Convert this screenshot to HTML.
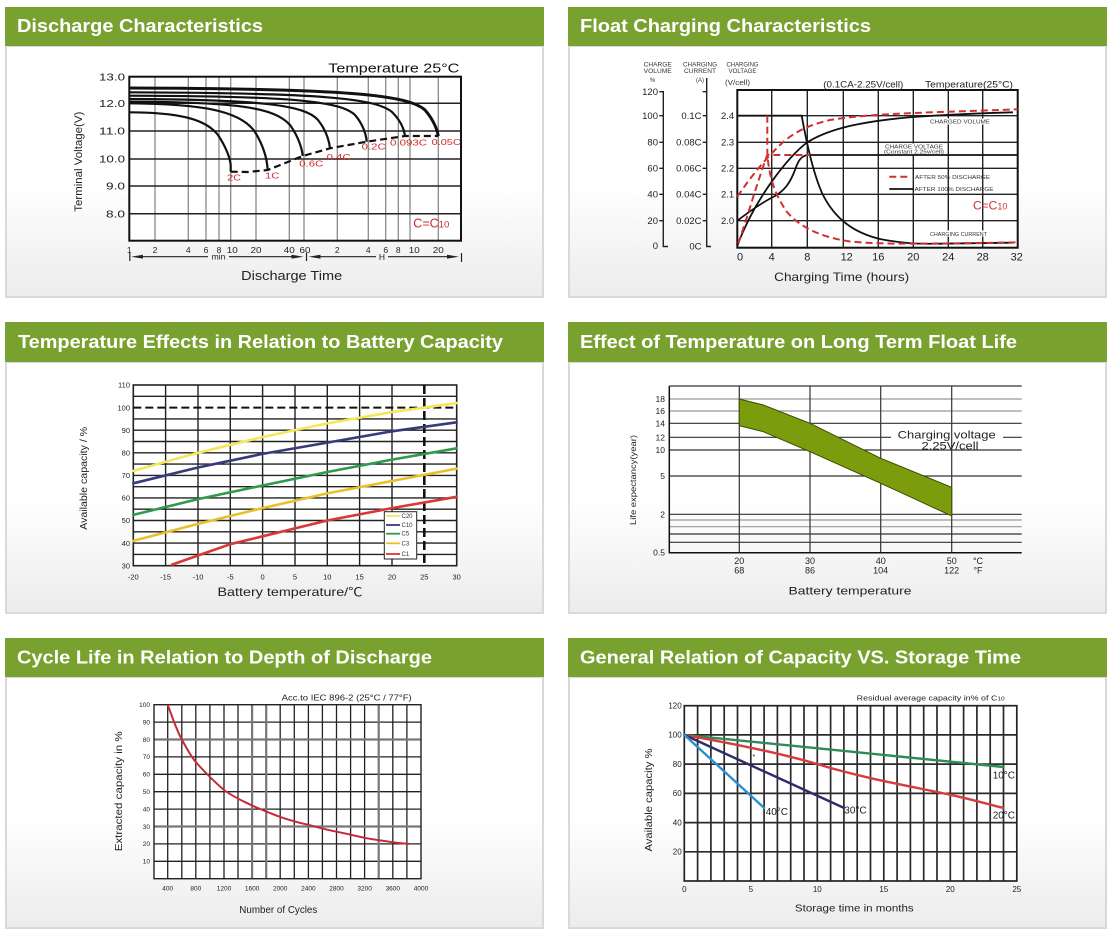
<!DOCTYPE html>
<html>
<head>
<meta charset="utf-8">
<style>
html,body{margin:0;padding:0;background:#fff;}
svg{display:block;}
text{font-family:"Liberation Sans","Noto Sans CJK SC",sans-serif;}
</style>
</head>
<body>
<svg width="1109" height="934" viewBox="0 0 1109 934" xmlns="http://www.w3.org/2000/svg">
<defs>
<linearGradient id="bg" x1="0" y1="0" x2="0" y2="1">
<stop offset="0" stop-color="#ffffff"/>
<stop offset="0.55" stop-color="#ffffff"/>
<stop offset="1" stop-color="#ececec"/>
</linearGradient>
</defs>
<rect width="1109" height="934" fill="#fff"/>

<!-- ===== Panels ===== -->
<g stroke="#d9d9d9" stroke-width="2" fill="url(#bg)">
<rect x="6" y="46" width="537" height="251"/>
<rect x="569" y="46" width="537" height="251"/>
<rect x="6" y="362" width="537" height="251"/>
<rect x="569" y="362" width="537" height="251"/>
<rect x="6" y="677" width="537" height="251"/>
<rect x="569" y="677" width="537" height="251"/>
</g>
<g fill="#79a130">
<rect x="5" y="7" width="539" height="39"/>
<rect x="568" y="7" width="539" height="39"/>
<rect x="5" y="322" width="539" height="40"/>
<rect x="568" y="322" width="539" height="40"/>
<rect x="5" y="638" width="539" height="39"/>
<rect x="568" y="638" width="539" height="39"/>
</g>
<g fill="#fff" font-weight="bold" font-size="18">
<text x="17" y="32" textLength="246" lengthAdjust="spacingAndGlyphs">Discharge Characteristics</text>
<text x="580" y="32" textLength="291" lengthAdjust="spacingAndGlyphs">Float Charging Characteristics</text>
<text x="18" y="348" textLength="485" lengthAdjust="spacingAndGlyphs">Temperature Effects in Relation to Battery Capacity</text>
<text x="580" y="348" textLength="437" lengthAdjust="spacingAndGlyphs">Effect of Temperature on Long Term Float Life</text>
<text x="17" y="663.5" textLength="415" lengthAdjust="spacingAndGlyphs">Cycle Life in Relation to Depth of Discharge</text>
<text x="580" y="663.5" textLength="441" lengthAdjust="spacingAndGlyphs">General Relation of Capacity VS. Storage Time</text>
</g>

<!-- ===== Chart 1: Discharge ===== -->
<g>
<rect x="129.3" y="76.7" width="331.7" height="164" fill="#fff"/>
<path d="M155,76.7V240.7M188.3,76.7V240.7M206,76.7V240.7M219,76.7V240.7M230.7,76.7V240.7M256,76.7V240.7M289.3,76.7V240.7M304,76.7V240.7M337.3,76.7V240.7M368.3,76.7V240.7M385.7,76.7V240.7M398.3,76.7V240.7M410,76.7V240.7M438.3,76.7V240.7" stroke="#8a8a8a" stroke-width="1.3" fill="none"/>
<path d="M129.3,103.3H461M129.3,131H461M129.3,159H461M129.3,186H461M129.3,213.7H461" stroke="#222" stroke-width="1.5" fill="none"/>
<rect x="129.3" y="76.7" width="331.7" height="164" fill="none" stroke="#111" stroke-width="2"/>
<g fill="none" stroke="#111" stroke-width="2.2">
<path d="M130,112.3 C175,112.5 205,118 218,135 C226,147 230,158 230.7,165 L230.7,171.7"/>
<path d="M130,103.3 C200,104 240,110 255,132 C263,145 267,158 267.7,170"/>
<path d="M130,101.7 C240,102 275,108 290,125 C298,136 302,148 302.7,156"/>
<path d="M130,99 C260,99.5 305,105 318,120 C326,130 329,140 330,148.3"/>
<path d="M130,95.7 C290,96 340,101 355,115 C362,123 366,133 366.7,141.7"/>
<path d="M130,92.3 C320,93 375,98 392,112 C400,120 404,128 405,136"/>
<path d="M130,88 C350,88.7 408,95 425,110 C432,118 437,128 438.3,136" stroke-width="3"/>
<path d="M230.7,171.7 L248,172 L267.7,170 L302.7,156 L330,148.3 L366.7,141.7 L405,136 L438.3,136" stroke-dasharray="7,4"/>
</g>
<g fill="#d02828" font-size="8">
<text x="227.3" y="180.5" textLength="13.7" lengthAdjust="spacingAndGlyphs">2C</text>
<text x="265" y="178.5" textLength="14.3" lengthAdjust="spacingAndGlyphs">1C</text>
<text x="299.3" y="166.5" textLength="24" lengthAdjust="spacingAndGlyphs">0.6C</text>
<text x="326.7" y="160" textLength="24" lengthAdjust="spacingAndGlyphs">0.4C</text>
<text x="361.7" y="149.5" textLength="24" lengthAdjust="spacingAndGlyphs">0.2C</text>
<text x="390" y="145.5" textLength="37" lengthAdjust="spacingAndGlyphs">0.093C</text>
<text x="431.7" y="145" textLength="29" lengthAdjust="spacingAndGlyphs">0.05C</text>
</g>
<text x="328.3" y="72.5" font-size="12.5" fill="#111" textLength="131" lengthAdjust="spacingAndGlyphs">Temperature 25°C</text>
<g font-size="10.5" fill="#222" text-anchor="end">
<text x="125" y="80.5" textLength="26" lengthAdjust="spacingAndGlyphs">13.0</text>
<text x="125" y="107" textLength="26" lengthAdjust="spacingAndGlyphs">12.0</text>
<text x="125" y="134.7" textLength="26" lengthAdjust="spacingAndGlyphs">11.0</text>
<text x="125" y="162.7" textLength="26" lengthAdjust="spacingAndGlyphs">10.0</text>
<text x="125" y="189.7" textLength="19" lengthAdjust="spacingAndGlyphs">9.0</text>
<text x="125" y="217.4" textLength="19" lengthAdjust="spacingAndGlyphs">8.0</text>
</g>
<text transform="rotate(-90 78 161.7)" x="78" y="165.5" font-size="11" fill="#222" text-anchor="middle" textLength="100" lengthAdjust="spacingAndGlyphs">Terminal Voltage(V)</text>
<g font-size="8.5" fill="#222" text-anchor="middle">
<text x="129.3" y="253">1</text>
<text x="155" y="253">2</text>
<text x="188.3" y="253">4</text>
<text x="206" y="253">6</text>
<text x="219" y="253">8</text>
<text x="232.3" y="253" textLength="11" lengthAdjust="spacingAndGlyphs">10</text>
<text x="256" y="253" textLength="11" lengthAdjust="spacingAndGlyphs">20</text>
<text x="289.3" y="253" textLength="11" lengthAdjust="spacingAndGlyphs">40</text>
<text x="305" y="253" textLength="11" lengthAdjust="spacingAndGlyphs">60</text>
<text x="337.3" y="253">2</text>
<text x="368.3" y="253">4</text>
<text x="385.7" y="253">6</text>
<text x="398.3" y="253">8</text>
<text x="414.3" y="253" textLength="11" lengthAdjust="spacingAndGlyphs">10</text>
<text x="438.3" y="253" textLength="11" lengthAdjust="spacingAndGlyphs">20</text>
</g>
<g stroke="#222" stroke-width="1.2" fill="none">
<path d="M129.8,253V261M306.5,253V261M461.5,253V262"/>
<path d="M140,256.7H208M229,256.7H293M318,256.7H376M388,256.7H449"/>
</g>
<g fill="#222">
<polygon points="131,256.7 143,254.8 143,258.6"/>
<polygon points="303.5,256.7 291.5,254.8 291.5,258.6"/>
<polygon points="308.5,256.7 320.5,254.8 320.5,258.6"/>
<polygon points="459,256.7 447,254.8 447,258.6"/>
</g>
<text x="218.5" y="259.5" font-size="8.5" fill="#222" text-anchor="middle">min</text>
<text x="382" y="260" font-size="8.5" fill="#222" text-anchor="middle">H</text>
<text x="291.7" y="280" font-size="12.5" fill="#222" text-anchor="middle" textLength="101" lengthAdjust="spacingAndGlyphs">Discharge Time</text>
<text x="413.3" y="227.5" font-size="12.5" fill="#d02828">C=C<tspan font-size="9.5">10</tspan></text>
</g>

<!-- ===== Chart 2: Float charging ===== -->
<g>
<rect x="737.3" y="90" width="280.4" height="157.7" fill="#fff"/>
<path d="M771.7,90V247.7M807.3,90V247.7M843.3,90V247.7M878.3,90V247.7M913.3,90V247.7M948.3,90V247.7M982.7,90V247.7" stroke="#222" stroke-width="1.4" fill="none"/>
<path d="M737.3,115.7H1017.7M737.3,142.3H1017.7M737.3,168.3H1017.7M737.3,194.3H1017.7M737.3,220.7H1017.7" stroke="#222" stroke-width="1.4" fill="none"/>
<rect x="737.3" y="90" width="280.4" height="157.7" fill="none" stroke="#111" stroke-width="2"/>
<g fill="#fff">
<rect x="927" y="118.5" width="66" height="6"/>
<rect x="883" y="143.5" width="63" height="11"/>
<rect x="928" y="230.5" width="61" height="6"/>
</g>
<g stroke="#222" stroke-width="1.4" fill="none">
<path d="M663.3,91V246.5H668M659.3,91.7H663.3M659.3,115.7H663.3M659.3,142.3H663.3M659.3,168.3H663.3M659.3,194.3H663.3M659.3,220.7H663.3"/>
<path d="M706.7,78V246.5H711M702.7,91.7H706.7M702.7,115.7H706.7M702.7,142.3H706.7M702.7,168.3H706.7M702.7,194.3H706.7M702.7,220.7H706.7"/>
</g>
<g font-size="9.5" fill="#222" text-anchor="end">
<text x="658" y="95">120</text>
<text x="658" y="119">100</text>
<text x="658" y="145.6">80</text>
<text x="658" y="171.6">60</text>
<text x="658" y="197.6">40</text>
<text x="658" y="224">20</text>
<text x="658" y="249">0</text>
<text x="701.5" y="119">0.1C</text>
<text x="701.5" y="145.6">0.08C</text>
<text x="701.5" y="171.6">0.06C</text>
<text x="701.5" y="197.6">0.04C</text>
<text x="701.5" y="224">0.02C</text>
<text x="701.5" y="249.5">0C</text>
</g>
<g font-size="9.5" fill="#222">
<text x="721" y="119">2.4</text>
<text x="721" y="145.6">2.3</text>
<text x="721" y="171.6">2.2</text>
<text x="721" y="197.6">2.1</text>
<text x="721" y="224">2.0</text>
</g>
<g font-size="6" fill="#333" text-anchor="middle">
<text x="657.7" y="66.5" textLength="28" lengthAdjust="spacingAndGlyphs">CHARGE</text>
<text x="657.7" y="72.8" textLength="28" lengthAdjust="spacingAndGlyphs">VOLUME</text>
<text x="652.5" y="82">%</text>
<text x="700" y="66.5" textLength="34" lengthAdjust="spacingAndGlyphs">CHARGING</text>
<text x="700" y="72.8" textLength="32" lengthAdjust="spacingAndGlyphs">CURRENT</text>
<text x="700" y="82">(A)</text>
<text x="742.5" y="66.5" textLength="32" lengthAdjust="spacingAndGlyphs">CHARGING</text>
<text x="742.5" y="72.8" textLength="28" lengthAdjust="spacingAndGlyphs">VOLTAGE</text>
<text x="737.5" y="85" font-size="7" textLength="25" lengthAdjust="spacingAndGlyphs">(V/cell)</text>
</g>
<text x="823.3" y="87.5" font-size="9" fill="#222" textLength="80" lengthAdjust="spacingAndGlyphs">(0.1CA-2.25V/cell)</text>
<text x="925" y="87.5" font-size="9.5" fill="#222" textLength="88" lengthAdjust="spacingAndGlyphs">Temperature(25°C)</text>
<g fill="none" stroke="#111" stroke-width="1.8">
<path d="M807.3,155 L1017.7,155"/>
<path d="M737.3,220.7 C750,211 765,201 775,196 C785,190 790,183 795,170 C798,161 801,156 807.3,155"/>
<path d="M737.3,115.7 L801.7,115.7 C806,140 812,170 822,193 C835,220 855,233 880,239 C900,243 915,244 940,243.7 L1013,242.7"/>
<path d="M737.3,245.7 C745,225 755,205 771.7,181.7 C785,163 797,150 807.3,142.3 C830,128 865,121 913,117 C950,114.5 985,113 1013,112.3"/>
</g>
<g fill="none" stroke="#d03030" stroke-width="2" stroke-dasharray="7,4">
<path d="M737.3,196.7 C750,178 762,163 775,150 C790,134 805,126 830,120 C860,115 900,113.5 940,112 L1017.7,109.3"/>
<path d="M738.3,243.3 C748,215 758,180 767.3,155 L810,155"/>
<path d="M767.3,115.7 L767.3,150 C768,175 775,195 787,212 C800,227 820,237 850,241.5 C880,244.5 920,244 1017.7,242.3"/>
</g>
<line x1="889.3" y1="176.7" x2="911" y2="176.7" stroke="#d03030" stroke-width="2" stroke-dasharray="7,4"/>
<line x1="889.3" y1="189" x2="913.3" y2="189" stroke="#111" stroke-width="1.8"/>
<g font-size="5.5" fill="#333">
<text x="915" y="179" textLength="75" lengthAdjust="spacingAndGlyphs">AFTER 50% DISCHARGE</text>
<text x="914.5" y="191" textLength="79" lengthAdjust="spacingAndGlyphs">AFTER 100% DISCHARGE</text>
<text x="930" y="123.5" textLength="60" lengthAdjust="spacingAndGlyphs">CHARGED VOLUME</text>
<text x="885" y="148.5" textLength="58" lengthAdjust="spacingAndGlyphs">CHARGE VOLTAGE</text>
<text x="884" y="153.5" textLength="60" lengthAdjust="spacingAndGlyphs">(Constant 2.25v/cell)</text>
<text x="930" y="236" textLength="57" lengthAdjust="spacingAndGlyphs">CHARGING CURRENT</text>
</g>
<text x="973" y="209.5" font-size="12" fill="#d03030">C=C<tspan font-size="9">10</tspan></text>
<g font-size="11" fill="#222" text-anchor="middle">
<text x="740" y="260.5">0</text>
<text x="771.7" y="260.5">4</text>
<text x="807.3" y="260.5">8</text>
<text x="846.7" y="260.5">12</text>
<text x="878.3" y="260.5">16</text>
<text x="913.3" y="260.5">20</text>
<text x="948.3" y="260.5">24</text>
<text x="982.7" y="260.5">28</text>
<text x="1016.7" y="260.5">32</text>
</g>
<text x="841.7" y="281" font-size="12" fill="#222" text-anchor="middle" textLength="135" lengthAdjust="spacingAndGlyphs">Charging Time (hours)</text>
</g>

<!-- ===== Chart 3: Temperature vs capacity ===== -->
<g>
<rect x="133.3" y="385" width="323.4" height="180.7" fill="#fff"/>
<path d="M133.3,554.4H456.7M133.3,543.1H456.7M133.3,531.8H456.7M133.3,520.5H456.7M133.3,509.2H456.7M133.3,497.9H456.7M133.3,486.7H456.7M133.3,475.4H456.7M133.3,464.1H456.7M133.3,452.8H456.7M133.3,441.5H456.7M133.3,430.2H456.7M133.3,418.9H456.7M133.3,396.3H456.7" stroke="#222" stroke-width="1.4" fill="none"/>
<path d="M165.6,385V565.7M198,385V565.7M230.3,385V565.7M262.6,385V565.7M295,385V565.7M327.3,385V565.7M359.6,385V565.7M392,385V565.7" stroke="#222" stroke-width="1.4" fill="none"/>
<rect x="133.3" y="385" width="323.4" height="180.7" fill="none" stroke="#222" stroke-width="1.6"/>
<line x1="133.3" y1="407.6" x2="456.7" y2="407.6" stroke="#111" stroke-width="2" stroke-dasharray="8,4"/>
<line x1="424.3" y1="385" x2="424.3" y2="565.7" stroke="#111" stroke-width="2.6" stroke-dasharray="9,4"/>
<g fill="none" stroke-width="2.6" stroke-linejoin="round" stroke-linecap="round">
<polyline stroke="#f3e85a" points="133.3,470.9 198,452.8 262.6,437 327.3,423.4 392,412.1 424.3,407.6 456.7,403.1"/>
<polyline stroke="#383a7c" points="133.3,483.3 198,467.5 262.6,453.9 327.3,442.6 392,431.3 456.7,422.3"/>
<polyline stroke="#2f9a4c" points="133.3,514.9 198,499.1 262.6,485.5 327.3,472 392,459.6 456.7,448.3"/>
<polyline stroke="#e8c12a" points="133.3,540.9 198,523.9 262.6,508.1 327.3,493.4 392,481 456.7,468.6"/>
<polyline stroke="#d83838" points="172.1,564.6 198,555.5 230.3,544.2 262.6,536.3 327.3,520.5 392,508.1 456.7,496.8"/>
</g>
<rect x="384.3" y="511.7" width="32.4" height="47.3" fill="#fff" stroke="#222" stroke-width="1"/>
<g stroke-width="1.8">
<line x1="386" y1="516" x2="400" y2="516" stroke="#f3e85a"/>
<line x1="386" y1="525" x2="400" y2="525" stroke="#383a7c"/>
<line x1="386" y1="533.7" x2="400" y2="533.7" stroke="#2f9a4c"/>
<line x1="386" y1="543.3" x2="400" y2="543.3" stroke="#e8c12a"/>
<line x1="386" y1="554" x2="400" y2="554" stroke="#d83838"/>
</g>
<g font-size="6" fill="#333">
<text x="401.5" y="518">C20</text>
<text x="401.5" y="527">C10</text>
<text x="401.5" y="535.7">C5</text>
<text x="401.5" y="545.3">C3</text>
<text x="401.5" y="556">C1</text>
</g>
<g font-size="7.5" fill="#222" text-anchor="end">
<text x="130" y="387.7">110</text>
<text x="130" y="410.3">100</text>
<text x="130" y="432.9">90</text>
<text x="130" y="455.5">80</text>
<text x="130" y="478.1">70</text>
<text x="130" y="500.6">60</text>
<text x="130" y="523.2">50</text>
<text x="130" y="545.8">40</text>
<text x="130" y="568.4">30</text>
</g>
<g font-size="7.5" fill="#222" text-anchor="middle">
<text x="133.3" y="579.5">-20</text>
<text x="165.6" y="579.5">-15</text>
<text x="198" y="579.5">-10</text>
<text x="230.3" y="579.5">-5</text>
<text x="262.6" y="579.5">0</text>
<text x="295" y="579.5">5</text>
<text x="327.3" y="579.5">10</text>
<text x="359.6" y="579.5">15</text>
<text x="392" y="579.5">20</text>
<text x="424.3" y="579.5">25</text>
<text x="456.7" y="579.5">30</text>
</g>
<text x="290" y="596" font-size="12" fill="#222" text-anchor="middle" textLength="145" lengthAdjust="spacingAndGlyphs">Battery temperature/℃</text>
<text transform="rotate(-90 83.3 478.3)" x="83.3" y="481.8" font-size="10" fill="#222" text-anchor="middle" textLength="103" lengthAdjust="spacingAndGlyphs">Available capacity / %</text>
</g>

<!-- ===== Chart 4: Float life ===== -->
<g>
<path d="M669.3,386H1021.7M669.3,423.3H1021.7M669.3,437.3H891M1003,437.3H1021.7M669.3,450H1021.7M669.3,476H1021.7M669.3,514.3H1021.7M669.3,534H1021.7M669.3,542.3H1021.7" stroke="#333" stroke-width="1.2" fill="none"/>
<path d="M669.3,399H1021.7M669.3,411H1021.7M669.3,520H1021.7M669.3,526.7H1021.7" stroke="#999" stroke-width="1.2" fill="none"/>
<path d="M739.3,386V552.7M810,386V552.7M880.7,386V552.7M951.7,386V552.7" stroke="#333" stroke-width="1.2" fill="none"/>
<path d="M669.3,386V552.7H1021.7" stroke="#111" stroke-width="1.5" fill="none"/>
<polygon points="739.3,399 763.3,405 810,423.3 880.7,458.3 951.7,487.3 951.7,516 880.7,483.3 810,451.7 763.3,431.7 739.3,425.7" fill="#7b9c0c" stroke="#3c4c00" stroke-width="1"/>
<g font-size="8.5" fill="#222" text-anchor="end">
<text x="665" y="402">18</text>
<text x="665" y="414">16</text>
<text x="665" y="426.3">14</text>
<text x="665" y="440.3">12</text>
<text x="665" y="453">10</text>
<text x="665" y="479">5</text>
<text x="665" y="517.3">2</text>
<text x="665" y="555.7">0.5</text>
</g>
<g font-size="9" fill="#222" text-anchor="middle">
<text x="739.3" y="564">20</text>
<text x="810" y="564">30</text>
<text x="880.7" y="564">40</text>
<text x="951.7" y="564">50</text>
<text x="739.3" y="573.5">68</text>
<text x="810" y="573.5">86</text>
<text x="880.7" y="573.5">104</text>
<text x="951.7" y="573.5">122</text>
<text x="978" y="564">°C</text>
<text x="978" y="573.5">°F</text>
</g>
<text x="946.7" y="438.5" font-size="11" fill="#222" text-anchor="middle" textLength="98" lengthAdjust="spacingAndGlyphs">Charging voltage</text>
<text x="950" y="449.5" font-size="11" fill="#222" text-anchor="middle" textLength="57" lengthAdjust="spacingAndGlyphs">2.25V/cell</text>
<text x="850" y="594.5" font-size="11" fill="#222" text-anchor="middle" textLength="123" lengthAdjust="spacingAndGlyphs">Battery temperature</text>
<text transform="rotate(-90 633.3 480)" x="633.3" y="482.8" font-size="8" fill="#222" text-anchor="middle" textLength="90" lengthAdjust="spacingAndGlyphs">Life expectancy(year)</text>
</g>

<!-- ===== Chart 5: Cycle life ===== -->
<g>
<rect x="154" y="704.7" width="267" height="174" fill="#fff"/>
<path d="M154,722.1H421M154,756.9H421M154,774.3H421M154,791.7H421M154,809.1H421M154,843.9H421M154,861.3H421" stroke="#222" stroke-width="1.3" fill="none"/>
<path d="M167.7,704.7V878.7M181.8,704.7V878.7M195.8,704.7V878.7M209.9,704.7V878.7M224,704.7V878.7M238,704.7V878.7M280.2,704.7V878.7M294.3,704.7V878.7M308.4,704.7V878.7M322.4,704.7V878.7M336.5,704.7V878.7M350.6,704.7V878.7M364.6,704.7V878.7M392.8,704.7V878.7M406.9,704.7V878.7" stroke="#222" stroke-width="1.3" fill="none"/>
<path d="M154,739.5H421M154,826.5H421M252.1,704.7V878.7M266.2,704.7V878.7M378.7,704.7V878.7" stroke="#777" stroke-width="2.2" fill="none"/>
<rect x="154" y="704.7" width="267" height="174" fill="none" stroke="#222" stroke-width="1.4"/>
<path d="M167.7,704.7 C172,716 176,729 181.8,739.5 C186,747 190,755 195.8,762.1 C203,770 210,778 224,790 C235,798 243,801 252.1,805.6 C265,811 272,814 280.2,816.9 C292,821 300,823 308.4,824.8 C320,828 328,830 336.5,831.7 C348,834 356,836 364.6,837.8 C376,840 384,841 392.8,842.2 C399,843 404,843.5 409,843.9" fill="none" stroke="#c42a3a" stroke-width="2"/>
<g font-size="6.5" fill="#222" text-anchor="end">
<text x="150" y="707">100</text>
<text x="150" y="724.4">90</text>
<text x="150" y="741.8">80</text>
<text x="150" y="759.2">70</text>
<text x="150" y="776.6">60</text>
<text x="150" y="794">50</text>
<text x="150" y="811.4">40</text>
<text x="150" y="828.8">30</text>
<text x="150" y="846.2">20</text>
<text x="150" y="863.6">10</text>
</g>
<g font-size="6.5" fill="#222" text-anchor="middle">
<text x="167.7" y="890.5">400</text>
<text x="195.8" y="890.5">800</text>
<text x="224" y="890.5">1200</text>
<text x="252.1" y="890.5">1600</text>
<text x="280.2" y="890.5">2000</text>
<text x="308.4" y="890.5">2400</text>
<text x="336.5" y="890.5">2800</text>
<text x="364.6" y="890.5">3200</text>
<text x="392.8" y="890.5">3600</text>
<text x="421" y="890.5">4000</text>
</g>
<text x="281.7" y="700.5" font-size="8" fill="#222" textLength="130" lengthAdjust="spacingAndGlyphs">Acc.to IEC 896-2 (25°C / 77°F)</text>
<text x="278.3" y="913" font-size="10" fill="#222" text-anchor="middle" textLength="78" lengthAdjust="spacingAndGlyphs">Number of Cycles</text>
<text transform="rotate(-90 118.3 791.3)" x="118.3" y="795" font-size="10.5" fill="#222" text-anchor="middle" textLength="120" lengthAdjust="spacingAndGlyphs">Extracted capacity in %</text>
</g>

<!-- ===== Chart 6: Storage ===== -->
<g>
<rect x="684.3" y="705.7" width="332.4" height="175.3" fill="#fff"/>
<path d="M697.6,705.7V881M710.9,705.7V881M724.2,705.7V881M737.5,705.7V881M750.8,705.7V881M764.1,705.7V881M777.4,705.7V881M790.7,705.7V881M804,705.7V881M817.3,705.7V881M830.6,705.7V881M843.9,705.7V881M857.2,705.7V881M870.5,705.7V881M883.8,705.7V881M897.1,705.7V881M910.4,705.7V881M923.7,705.7V881M937,705.7V881M950.3,705.7V881M963.6,705.7V881M976.9,705.7V881M990.2,705.7V881M1003.5,705.7V881" stroke="#2a2a2a" stroke-width="1.7" fill="none"/>
<path d="M684.3,734.9H1016.8M684.3,764.1H1016.8M684.3,793.4H1016.8M684.3,822.6H1016.8M684.3,851.8H1016.8" stroke="#2a2a2a" stroke-width="1.7" fill="none"/>
<rect x="684.3" y="705.7" width="332.5" height="175.3" fill="none" stroke="#222" stroke-width="1.7"/>
<g fill="none" stroke-width="2.4" stroke-linecap="round">
<path d="M684.3,734.9 L1003.5,767" stroke="#2e8b57"/>
<path d="M684.3,734.9 C730,743 780,753 817.3,764.1 C870,780 920,788 950.3,794.8 C975,800 990,805 1003.5,807.9" stroke="#d63c3c"/>
<path d="M684.3,734.9 L843.9,807.9" stroke="#2c2c6c"/>
<path d="M684.3,734.9 L764.1,807.9" stroke="#2b8fd0"/>
</g>
<g font-size="10" fill="#222">
<text x="992.7" y="778.5">10°C</text>
<text x="992.7" y="818.5">20°C</text>
<text x="844.3" y="813.5">30°C</text>
<text x="765.7" y="815">40°C</text>
<text x="752.5" y="759" font-size="7">*</text>
</g>
<text x="856.7" y="700.5" font-size="7.5" fill="#222" textLength="148" lengthAdjust="spacingAndGlyphs">Residual average capacity in% of C<tspan font-size="5.5">10</tspan></text>
<g font-size="8" fill="#222" text-anchor="end">
<text x="681.7" y="708.5">120</text>
<text x="681.7" y="737.7">100</text>
<text x="681.7" y="766.9">80</text>
<text x="681.7" y="796.2">60</text>
<text x="681.7" y="825.4">40</text>
<text x="681.7" y="854.6">20</text>
</g>
<g font-size="8" fill="#222" text-anchor="middle">
<text x="684.3" y="892">0</text>
<text x="750.8" y="892">5</text>
<text x="817.3" y="892">10</text>
<text x="883.8" y="892">15</text>
<text x="950.3" y="892">20</text>
<text x="1016.8" y="892">25</text>
</g>
<text x="854.3" y="911.5" font-size="10.5" fill="#222" text-anchor="middle" textLength="118.7" lengthAdjust="spacingAndGlyphs">Storage time in months</text>
<text transform="rotate(-90 648.3 800)" x="648.3" y="803.7" font-size="10.5" fill="#222" text-anchor="middle" textLength="103" lengthAdjust="spacingAndGlyphs">Available capacity %</text>
</g>
</svg>
</body>
</html>
